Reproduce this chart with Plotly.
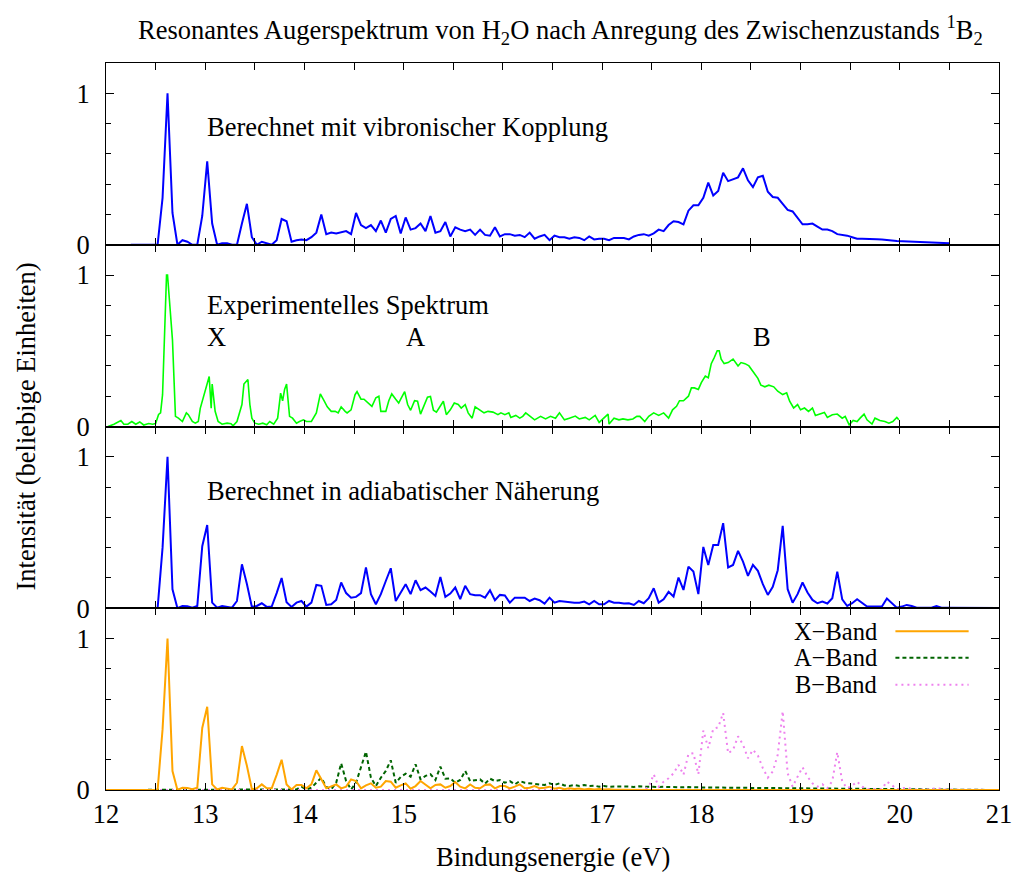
import plotly.graph_objects as go
from plotly.subplots import make_subplots

# ---------------- data ----------------
vib_x = [12.25, 12.52, 12.57, 12.62, 12.67, 12.72, 12.77, 12.82, 12.87, 12.92, 12.97, 13.02, 13.07, 13.12, 13.17,
         13.22, 13.27, 13.32, 13.37, 13.42, 13.47, 13.52, 13.57, 13.62, 13.67, 13.72, 13.77, 13.82, 13.87, 13.92,
         13.97, 14.02, 14.07, 14.12, 14.17, 14.22, 14.27, 14.32, 14.37, 14.42, 14.47, 14.52, 14.57, 14.62, 14.67,
         14.72, 14.77, 14.82, 14.87, 14.92, 14.97, 15.02, 15.07, 15.12, 15.17, 15.22, 15.27, 15.32, 15.37, 15.42,
         15.47, 15.52, 15.57, 15.62, 15.67, 15.72, 15.77, 15.82, 15.87, 15.92, 15.97, 16.02, 16.07, 16.12, 16.17,
         16.22, 16.27, 16.32, 16.37, 16.42, 16.47, 16.52, 16.57, 16.62, 16.67, 16.72, 16.77, 16.82, 16.87, 16.92,
         16.97, 17.02, 17.07, 17.12, 17.17, 17.22, 17.27, 17.32, 17.37, 17.42, 17.47, 17.52, 17.57, 17.62, 17.67,
         17.72, 17.77, 17.82, 17.87, 17.92, 17.97, 18.02, 18.07, 18.12, 18.17, 18.22, 18.27, 18.32, 18.37, 18.42,
         18.47, 18.52, 18.57, 18.62, 18.67, 18.72, 18.77, 18.82, 18.87, 18.92, 18.97, 19.02, 19.07, 19.12, 19.17,
         19.22, 19.27, 19.32, 19.37, 19.42, 19.47, 19.52, 19.57, 19.62, 19.67, 19.72, 19.77, 19.82, 19.87, 19.92,
         19.97, 20.02, 20.07, 20.12, 20.17, 20.22, 20.27, 20.32, 20.37, 20.42, 20.47, 20.50]
vib_y = [0.0, 0.0, 0.31, 1.0, 0.21, 0.0, 0.03, 0.02, 0.0, 0.0, 0.19, 0.55, 0.14, 0.0, 0.01,
         0.01, 0.0, 0.0, 0.14, 0.27, 0.05, 0.0, 0.02, 0.01, 0.0, 0.03, 0.17, 0.155, 0.02, 0.03,
         0.035, 0.03, 0.05, 0.08, 0.2, 0.07, 0.08, 0.075, 0.08, 0.09, 0.07, 0.21, 0.13, 0.11, 0.13,
         0.09, 0.16, 0.08, 0.17, 0.19, 0.075, 0.18, 0.1, 0.11, 0.14, 0.09, 0.19, 0.08, 0.09, 0.15,
         0.055, 0.115, 0.1, 0.09, 0.1, 0.065, 0.1, 0.065, 0.06, 0.115, 0.055, 0.07, 0.07, 0.06, 0.065,
         0.05, 0.08, 0.04, 0.055, 0.065, 0.03, 0.06, 0.05, 0.05, 0.04, 0.05, 0.045, 0.03, 0.055, 0.035,
         0.04, 0.04, 0.03, 0.045, 0.045, 0.045, 0.035, 0.055, 0.065, 0.07, 0.06, 0.075, 0.1, 0.09, 0.13,
         0.155, 0.15, 0.135, 0.225, 0.26, 0.26, 0.31, 0.41, 0.325, 0.355, 0.475, 0.42, 0.435, 0.445, 0.505,
         0.425, 0.38, 0.445, 0.455, 0.35, 0.315, 0.31, 0.27, 0.23, 0.22, 0.18, 0.135, 0.135, 0.14, 0.12,
         0.1, 0.1, 0.09, 0.07, 0.065, 0.06, 0.05, 0.04, 0.04, 0.04, 0.038, 0.036, 0.035, 0.03, 0.028,
         0.025, 0.024, 0.022, 0.021, 0.02, 0.018, 0.017, 0.015, 0.014, 0.012, 0.011, 0.01]

exp_x = [12.02, 12.08, 12.15, 12.18, 12.22, 12.26, 12.30, 12.34, 12.38, 12.43, 12.47, 12.50, 12.53, 12.55, 12.57,
         12.61, 12.62, 12.67, 12.70, 12.73, 12.77, 12.81, 12.83, 12.87, 12.90, 12.93, 12.95, 12.98, 13.02, 13.04,
         13.06, 13.07, 13.10, 13.13, 13.17, 13.22, 13.26, 13.28, 13.32, 13.34, 13.37, 13.39, 13.43, 13.45, 13.47,
         13.50, 13.54, 13.58, 13.62, 13.65, 13.69, 13.73, 13.76, 13.78, 13.80, 13.82, 13.83, 13.85, 13.88, 13.92,
         13.95, 13.99, 14.02, 14.07, 14.12, 14.16, 14.20, 14.23, 14.27, 14.31, 14.34, 14.37, 14.41, 14.43, 14.47,
         14.51, 14.53, 14.57, 14.60, 14.64, 14.68, 14.72, 14.75, 14.77, 14.82, 14.85, 14.88, 14.92, 14.95, 14.97,
         15.01, 15.04, 15.07, 15.11, 15.14, 15.17, 15.21, 15.24, 15.27, 15.30, 15.33, 15.37, 15.40, 15.43, 15.47,
         15.51, 15.55, 15.58, 15.62, 15.65, 15.69, 15.72, 15.77, 15.81, 15.85, 15.90, 15.95, 15.98, 16.02, 16.06,
         16.08, 16.13, 16.17, 16.20, 16.23, 16.27, 16.32, 16.38, 16.43, 16.48, 16.53, 16.57, 16.62, 16.67, 16.73,
         16.77, 16.83, 16.87, 16.93, 16.97, 17.02, 17.06, 17.07, 17.12, 17.17, 17.21, 17.26, 17.31, 17.35, 17.38,
         17.43, 17.47, 17.52, 17.57, 17.62, 17.67, 17.71, 17.75, 17.78, 17.82, 17.87, 17.90, 17.93, 17.97, 18.00,
         18.04, 18.07, 18.10, 18.13, 18.16, 18.18, 18.20, 18.23, 18.27, 18.32, 18.35, 18.37, 18.40, 18.44, 18.48,
         18.53, 18.57, 18.60, 18.64, 18.68, 18.73, 18.77, 18.82, 18.86, 18.89, 18.93, 18.97, 19.00, 19.04, 19.08,
         19.12, 19.15, 19.20, 19.24, 19.27, 19.32, 19.37, 19.42, 19.45, 19.49, 19.53, 19.57, 19.60, 19.64, 19.67,
         19.72, 19.75, 19.80, 19.85, 19.89, 19.93, 19.97, 19.99]
exp_y = [0.0, 0.015, 0.04, 0.015, 0.015, 0.033, 0.015, 0.03, 0.01, 0.02, 0.015, 0.02, 0.08, 0.09, 0.21,
         1.0, 1.0, 0.57, 0.067, 0.055, 0.033, 0.09, 0.078, 0.033, 0.022, 0.033, 0.12, 0.19, 0.3, 0.33,
         0.12, 0.28, 0.1, 0.033, 0.015, 0.022, 0.018, 0.005, 0.033, 0.078, 0.145, 0.28, 0.31, 0.145, 0.055,
         0.022, 0.015, 0.022, 0.011, 0.033, 0.015, 0.055, 0.22, 0.17, 0.245, 0.28, 0.19, 0.067, 0.055, 0.022,
         0.033, 0.044, 0.033, 0.033, 0.09, 0.215, 0.167, 0.13, 0.1, 0.1, 0.09, 0.13, 0.1, 0.09, 0.11,
         0.21, 0.23, 0.18, 0.18, 0.155, 0.133, 0.19, 0.2, 0.1, 0.1, 0.17, 0.215, 0.18, 0.155, 0.18,
         0.23, 0.145, 0.107, 0.17, 0.167, 0.082, 0.145, 0.193, 0.198, 0.107, 0.095, 0.133, 0.167, 0.078, 0.11,
         0.155, 0.145, 0.122, 0.145, 0.09, 0.055, 0.13, 0.11, 0.09, 0.1, 0.095, 0.078, 0.09, 0.078, 0.09,
         0.06, 0.073, 0.055, 0.067, 0.09, 0.067, 0.044, 0.067, 0.05, 0.067, 0.055, 0.09, 0.044, 0.055, 0.069,
         0.05, 0.06, 0.044, 0.073, 0.027, 0.055, 0.082, 0.016, 0.055, 0.044, 0.05, 0.044, 0.05, 0.067, 0.067,
         0.033, 0.067, 0.09, 0.073, 0.09, 0.055, 0.11, 0.133, 0.17, 0.17, 0.2, 0.255, 0.255, 0.245, 0.29,
         0.333, 0.322, 0.415, 0.455, 0.5, 0.5, 0.445, 0.415, 0.422, 0.445, 0.422, 0.4, 0.422, 0.415, 0.4,
         0.355, 0.318, 0.273, 0.262, 0.273, 0.262, 0.233, 0.211, 0.222, 0.167, 0.122, 0.145, 0.11, 0.122, 0.1,
         0.122, 0.073, 0.082, 0.093, 0.06, 0.078, 0.082, 0.055, 0.067, 0.011, 0.04, 0.033, 0.055, 0.082, 0.044,
         0.016, 0.055, 0.04, 0.033, 0.022, 0.033, 0.06, 0.044]

adi_x = [12.00, 12.52, 12.57, 12.62, 12.67, 12.72, 12.77, 12.82, 12.87, 12.92, 12.97, 13.02, 13.07, 13.12, 13.17,
         13.22, 13.27, 13.32, 13.37, 13.42, 13.47, 13.52, 13.57, 13.62, 13.67, 13.72, 13.77, 13.82, 13.87, 13.92,
         13.97, 14.02, 14.07, 14.12, 14.17, 14.22, 14.27, 14.32, 14.37, 14.42, 14.47, 14.52, 14.57, 14.62, 14.67,
         14.72, 14.77, 14.82, 14.87, 14.92, 14.97, 15.02, 15.07, 15.12, 15.17, 15.22, 15.27, 15.32, 15.37, 15.42,
         15.47, 15.52, 15.57, 15.62, 15.67, 15.72, 15.77, 15.82, 15.87, 15.92, 15.97, 16.02, 16.07, 16.12, 16.17,
         16.22, 16.27, 16.32, 16.37, 16.42, 16.47, 16.52, 16.57, 16.62, 16.67, 16.72, 16.77, 16.82, 16.87, 16.92,
         16.97, 17.02, 17.07, 17.12, 17.17, 17.22, 17.27, 17.32, 17.37, 17.42, 17.47, 17.52, 17.57, 17.62, 17.67,
         17.72, 17.77, 17.82, 17.87, 17.92, 17.97, 18.02, 18.07, 18.12, 18.17, 18.22, 18.27, 18.32, 18.37, 18.42,
         18.47, 18.52, 18.57, 18.62, 18.67, 18.72, 18.77, 18.82, 18.87, 18.92, 18.97, 19.02, 19.07, 19.12, 19.17,
         19.22, 19.27, 19.32, 19.37, 19.42, 19.47, 19.52, 19.57, 19.62, 19.67, 19.72, 19.77, 19.82, 19.87, 19.92,
         19.97, 20.02, 20.07, 20.12, 20.17, 20.22, 20.27, 20.32, 20.37, 20.42, 20.47, 20.52, 20.67, 21.00]
adi_y = [0.0, 0.0, 0.4, 1.0, 0.125, 0.0, 0.015, 0.013, 0.004, 0.015, 0.41, 0.55, 0.037, 0.004, 0.015,
         0.011, 0.004, 0.048, 0.29, 0.16, 0.009, 0.015, 0.033, 0.009, 0.011, 0.1, 0.2, 0.04, 0.009, 0.037,
         0.048, 0.011, 0.037, 0.154, 0.148, 0.022, 0.026, 0.055, 0.17, 0.1, 0.07, 0.075, 0.1, 0.27, 0.093,
         0.026, 0.093, 0.18, 0.264, 0.048, 0.1, 0.159, 0.093, 0.185, 0.119, 0.137, 0.11, 0.081, 0.207, 0.075,
         0.097, 0.137, 0.06, 0.148, 0.093, 0.086, 0.086, 0.07, 0.119, 0.053, 0.088, 0.084, 0.037, 0.07, 0.07,
         0.07, 0.048, 0.064, 0.053, 0.031, 0.07, 0.037, 0.048, 0.044, 0.037, 0.037, 0.037, 0.044, 0.026, 0.048,
         0.026, 0.026, 0.048, 0.037, 0.037, 0.031, 0.033, 0.022, 0.048, 0.033, 0.066, 0.132, 0.037, 0.059, 0.108,
         0.077, 0.203, 0.121, 0.275, 0.242, 0.093, 0.405, 0.286, 0.418, 0.418, 0.562, 0.269, 0.286, 0.379, 0.308,
         0.214, 0.286, 0.247, 0.159, 0.088, 0.141, 0.251, 0.544, 0.126, 0.037, 0.093, 0.17, 0.104, 0.055, 0.033,
         0.044, 0.031, 0.066, 0.242, 0.059, 0.015, 0.033, 0.059, 0.033, 0.011, 0.011, 0.011, 0.011, 0.064, 0.037,
         0.004, 0.011, 0.022, 0.015, 0.004, 0.004, 0.004, 0.004, 0.015, 0.004, 0.004, 0.004, 0.002, 0.002]

xband_x = [12.00, 12.52, 12.57, 12.62, 12.67, 12.72, 12.77, 12.82, 12.87, 12.92, 12.97, 13.02, 13.07, 13.12, 13.17,
           13.22, 13.27, 13.32, 13.37, 13.42, 13.47, 13.52, 13.57, 13.62, 13.67, 13.72, 13.77, 13.82, 13.87, 13.92,
           13.97, 14.02, 14.07, 14.12, 14.17, 14.22, 14.27, 14.32, 14.37, 14.42, 14.47, 14.52, 14.57, 14.62, 14.67,
           14.72, 14.77, 14.82, 14.87, 14.92, 14.97, 15.02, 15.07, 15.12, 15.17, 15.22, 15.27, 15.32, 15.37, 15.42,
           15.47, 15.52, 15.57, 15.62, 15.67, 15.72, 15.77, 15.82, 15.87, 15.92, 15.97, 16.02, 16.07, 16.12, 16.17,
           16.22, 16.27, 16.32, 16.37, 16.42, 16.47, 16.52, 16.57, 16.62, 16.67, 16.72, 16.77, 16.82, 16.87, 16.92,
           16.97, 17.02, 17.07, 17.12, 17.17, 17.22, 17.50, 21.00]
xband_y = [0.0, 0.0, 0.4, 1.0, 0.125, 0.0, 0.015, 0.013, 0.005, 0.015, 0.41, 0.55, 0.037, 0.004, 0.015,
           0.011, 0.004, 0.048, 0.29, 0.16, 0.005, 0.011, 0.037, 0.011, 0.011, 0.1, 0.2, 0.037, 0.004, 0.033,
           0.033, 0.011, 0.037, 0.13, 0.07, 0.011, 0.024, 0.037, 0.011, 0.022, 0.07, 0.059, 0.011, 0.031, 0.044,
           0.015, 0.022, 0.059, 0.055, 0.015, 0.031, 0.044, 0.009, 0.026, 0.059, 0.037, 0.011, 0.033, 0.037, 0.015,
           0.026, 0.053, 0.022, 0.011, 0.037, 0.015, 0.011, 0.033, 0.037, 0.011, 0.026, 0.026, 0.011, 0.022, 0.037,
           0.011, 0.015, 0.026, 0.011, 0.015, 0.022, 0.009, 0.015, 0.005, 0.012, 0.006, 0.01, 0.004, 0.008, 0.004,
           0.006, 0.003, 0.005, 0.002, 0.003, 0.002, 0.0, 0.0]

aband_x = [12.00, 13.87, 13.92, 13.97, 14.02, 14.07, 14.12, 14.17, 14.22, 14.27, 14.32, 14.37, 14.42, 14.47, 14.52,
           14.57, 14.62, 14.67, 14.72, 14.77, 14.82, 14.87, 14.92, 14.97, 15.02, 15.07, 15.12, 15.17, 15.22, 15.27,
           15.32, 15.37, 15.42, 15.47, 15.52, 15.57, 15.62, 15.67, 15.72, 15.77, 15.82, 15.87, 15.92, 15.97, 16.02,
           16.07, 16.12, 16.17, 16.22, 16.27, 16.32, 16.37, 16.42, 16.47, 16.52, 16.57, 16.62, 16.67, 16.72, 16.77,
           16.82, 16.87, 16.92, 16.97, 17.02, 17.07, 17.12, 17.17, 17.22, 17.27, 17.32, 17.37, 17.42, 17.47, 17.52,
           17.57, 17.62, 17.67, 17.72, 17.77, 17.82, 17.87, 17.92, 17.97, 18.02, 18.5, 19.0, 19.5, 20.0, 20.5, 21.0]
aband_y = [0.0, 0.0, 0.004, 0.022, 0.004, 0.015, 0.048, 0.081, 0.02, 0.004, 0.048, 0.176, 0.059, 0.004, 0.048,
           0.148, 0.253, 0.081, 0.026, 0.081, 0.126, 0.196, 0.048, 0.086, 0.108, 0.088, 0.17, 0.07, 0.093, 0.104,
           0.066, 0.154, 0.075, 0.077, 0.048, 0.066, 0.126, 0.059, 0.066, 0.07, 0.042, 0.075, 0.059, 0.066, 0.048,
           0.059, 0.037, 0.059, 0.048, 0.044, 0.042, 0.037, 0.033, 0.044, 0.033, 0.044, 0.03, 0.027, 0.033, 0.027,
           0.033, 0.027, 0.029, 0.022, 0.027, 0.022, 0.022, 0.026, 0.022, 0.024, 0.02, 0.024, 0.022, 0.02, 0.022,
           0.02, 0.021, 0.019, 0.02, 0.019, 0.018, 0.019, 0.018, 0.017, 0.017, 0.014, 0.011, 0.007, 0.004, 0.002, 0.0]

bband_x = [12.00, 17.42, 17.47, 17.52, 17.57, 17.62, 17.67, 17.72, 17.77, 17.82, 17.87, 17.92, 17.97, 18.02, 18.07,
           18.12, 18.17, 18.22, 18.27, 18.32, 18.37, 18.42, 18.47, 18.52, 18.57, 18.62, 18.67, 18.72, 18.77, 18.82,
           18.87, 18.92, 18.97, 19.02, 19.07, 19.12, 19.17, 19.22, 19.27, 19.32, 19.37, 19.42, 19.47, 19.52, 19.57,
           19.62, 19.67, 19.72, 19.77, 19.82, 19.87, 19.92, 19.97, 20.02, 20.07, 20.12, 20.17, 20.27, 20.37, 20.47,
           20.67, 21.00]
bband_y = [0.0, 0.0, 0.02, 0.104, 0.022, 0.055, 0.077, 0.11, 0.166, 0.1, 0.237, 0.243, 0.104, 0.392, 0.277,
           0.403, 0.414, 0.509, 0.243, 0.265, 0.354, 0.299, 0.21, 0.265, 0.228, 0.144, 0.082, 0.122, 0.232, 0.52,
           0.11, 0.022, 0.088, 0.15, 0.088, 0.044, 0.022, 0.038, 0.011, 0.06, 0.25, 0.055, 0.011, 0.029, 0.055,
           0.022, 0.007, 0.007, 0.007, 0.007, 0.055, 0.033, 0.004, 0.008, 0.015, 0.006, 0.003, 0.004, 0.011, 0.003,
           0.001, 0.0]

x_tick_vals = [12, 13, 14, 15, 16, 17, 18, 19, 20, 21]
y_tick_vals = [0, 1]

panel_labels = ["Berechnet mit vibronischer Kopplung", "Experimentelles Spektrum",
                "Berechnet in adiabatischer Näherung"]
band_names = ["X\u2212Band", "A\u2212Band", "B\u2212Band"]

# ---------------- figure ----------------
FONT = "Liberation Serif, Times New Roman, serif"
FS = 26.5
fig = make_subplots(rows=4, cols=1, shared_xaxes=True, vertical_spacing=0)

fig.add_trace(go.Scatter(x=vib_x, y=vib_y, mode="lines", line=dict(color="#0000ff", width=2)), row=1, col=1)
fig.add_trace(go.Scatter(x=exp_x, y=exp_y, mode="lines", line=dict(color="#00ff00", width=1.6)), row=2, col=1)
fig.add_trace(go.Scatter(x=adi_x, y=adi_y, mode="lines", line=dict(color="#0000ff", width=2)), row=3, col=1)
fig.add_trace(go.Scatter(x=aband_x, y=aband_y, mode="lines",
                         line=dict(color="#006400", width=2, dash="4px,3px")), row=4, col=1)
fig.add_trace(go.Scatter(x=bband_x, y=bband_y, mode="lines",
                         line=dict(color="#ee82ee", width=2, dash="2px,4px")), row=4, col=1)
fig.add_trace(go.Scatter(x=xband_x, y=xband_y, mode="lines", line=dict(color="#ffa500", width=2)), row=4, col=1)

for r in range(1, 5):
    fig.update_xaxes(row=r, col=1, range=[12, 21], tickmode="array", tickvals=x_tick_vals,
                     ticks="inside", ticklen=7, tickwidth=1.2, tickcolor="black",
                     minor=dict(dtick=0.5, tick0=12, ticks="inside", ticklen=7, tickwidth=1.2, tickcolor="black"),
                     showline=True, linecolor="black", linewidth=1, mirror="allticks",
                     showgrid=False, zeroline=False, showticklabels=(r == 4),
                     tickfont=dict(family=FONT, size=FS, color="black"))
    fig.update_yaxes(row=r, col=1, range=[0, 1.2], tickmode="array", tickvals=y_tick_vals,
                     ticks="inside", ticklen=8, tickwidth=1.2, tickcolor="black",
                     minor=dict(dtick=0.2, tick0=0, ticks="inside", ticklen=5, tickwidth=1.2, tickcolor="black"),
                     showline=True, linecolor="black", linewidth=1, mirror="allticks",
                     showgrid=False, zeroline=False, ticklabelstandoff=10,
                     tickfont=dict(family=FONT, size=FS, color="black"))

ann = []
txt = dict(family=FONT, size=FS, color="black")
ann.append(dict(x=13.0, y=0.78, xref="x", yref="y", text=panel_labels[0], showarrow=False,
                xanchor="left", yanchor="middle", font=txt))
ann.append(dict(x=13.0, y=0.80, xref="x2", yref="y2", text=panel_labels[1], showarrow=False,
                xanchor="left", yanchor="middle", font=txt))
ann.append(dict(x=13.0, y=0.59, xref="x2", yref="y2", text="X", showarrow=False,
                xanchor="left", yanchor="middle", font=txt))
ann.append(dict(x=15.0, y=0.59, xref="x2", yref="y2", text="A", showarrow=False,
                xanchor="left", yanchor="middle", font=txt))
ann.append(dict(x=18.5, y=0.59, xref="x2", yref="y2", text="B", showarrow=False,
                xanchor="left", yanchor="middle", font=txt))
ann.append(dict(x=13.0, y=0.775, xref="x3", yref="y3", text=panel_labels[2], showarrow=False,
                xanchor="left", yanchor="middle", font=txt))

# legend (text left, sample right) in panel 4
leg_y = [0.874, 0.727, 0.579]
leg_styles = [dict(color="#ffa500", width=2), dict(color="#006400", width=2, dash="4px,3px"),
              dict(color="#ee82ee", width=2, dash="2px,4px")]
leg_font = dict(family=FONT, size=24.5, color="black")
shapes = []
for name, yy, st in zip(band_names, leg_y, leg_styles):
    ann.append(dict(x=0.866, y=yy, xref="x4 domain", yref="y4 domain", text=name, showarrow=False,
                    xanchor="right", yanchor="middle", font=leg_font))
    shapes.append(dict(type="line", xref="x4 domain", yref="y4 domain", x0=0.884, x1=0.966, y0=yy, y1=yy,
                       line=st))

ann.append(dict(x=0.5, y=1, xref="paper", yref="paper", yshift=33, xshift=8,
                text="Resonantes Augerspektrum von H<sub>2</sub>O nach Anregung des Zwischenzustands <sup>1</sup>B<sub>2</sub>",
                showarrow=False, xanchor="center", yanchor="middle", font=txt))
ann.append(dict(x=0.5, y=0, xref="paper", yref="paper", yshift=-67,
                text="Bindungsenergie (eV)", showarrow=False, xanchor="center", yanchor="middle", font=txt))
ann.append(dict(x=0, y=0.5, xref="paper", yref="paper", xshift=-81,
                text="Intensität (beliebige Einheiten)", textangle=-90, showarrow=False,
                xanchor="center", yanchor="middle", font=txt))

fig.update_layout(width=1024, height=873, margin=dict(l=106, r=18, t=63, b=83),
                  paper_bgcolor="white", plot_bgcolor="white", showlegend=False,
                  annotations=ann, shapes=shapes, font=dict(family=FONT, color="black"))

fig.write_html("out.html")
